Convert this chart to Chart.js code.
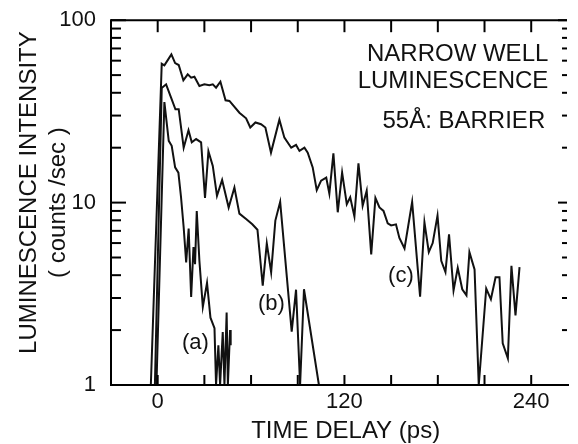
<!DOCTYPE html>
<html>
<head>
<meta charset="utf-8">
<script src="https://cdn.jsdelivr.net/npm/chart.js@4.4.1/dist/chart.umd.min.js"></script>
<style>
    html, body { margin: 0; padding: 0; background: #fff; }
</style>
</head>
<body>
<canvas id="chart" width="578" height="444"></canvas>
<script>
// time delay (ps) and counts/sec
const timeA = [-0.8, 4.3, 7.1, 9.0, 11.2, 13.3, 15.0, 16.7, 18.3, 19.9, 21.5, 23.0, 24.0, 25.1,
    26.8, 29.0, 31.7, 33.9, 36.5, 37.5, 39.0, 40.1, 41.8, 42.9, 44.3, 45.1, 46.5, 46.9];
const countsA = [1.0, 35.6, 21.8, 20.5, 15.6, 14.6, 10.7, 7.3, 4.7, 7.2, 3.04, 5.7, 4.6, 9.0,
    4.8, 2.68, 3.63, 2.34, 2.05, 1.0, 1.65, 1.0, 1.95, 1.0, 2.5, 1.0, 2.0, 1.65];

const timeB = [-1.8, 2.6, 5.4, 8.6, 11.4, 13.5, 16.7, 19.8, 21.9, 24.7, 27.9, 30.4, 32.6, 35.4,
    38.1, 41.4, 45.6, 49.3, 52.5, 57.0, 60.8, 64.1, 67.5, 70.1, 72.9, 75.6, 78.7, 86.1, 88.9,
    91.5, 94.0, 103.6];
const countsB = [1.0, 42.5, 44.5, 37.6, 32.5, 32.5, 20.0, 24.9, 21.4, 22.3, 21.4, 10.6, 19.1, 15.9,
    10.9, 13.3, 9.4, 12.1, 8.7, 8.1, 7.6, 7.1, 3.5, 5.97, 4.15, 7.97, 10.1, 1.96, 3.33,
    1.0, 3.35, 1.0];

const timeC = [-4.4, 2.6, 4.3, 8.8, 11.2, 13.5, 16.5, 19.3, 21.5, 23.6, 26.8, 30.0, 33.2, 35.4,
    37.5, 40.3, 43.6, 46.1, 52.5, 56.8, 59.5, 62.8, 66.4, 69.2, 72.8, 78.2, 81.4, 85.8, 88.9,
    91.1, 94.3, 96.4, 99.6, 102.2, 105.0, 108.3, 110.3, 112.9, 115.7, 118.5, 121.5, 123.7,
    126.4, 129.0, 131.7, 134.3, 137.2, 139.9, 142.5, 145.1, 147.8, 150.0, 153.1, 155.3, 158.6,
    163.5, 168.6, 171.4, 174.2, 176.7, 179.8, 182.2, 184.9, 187.2, 190.1, 192.8, 195.7, 198.4,
    200.3, 203.6, 206.3, 211.1, 214.1, 217.1, 219.6, 221.7, 225.0, 227.3, 229.9, 232.5];
const countsC = [1.0, 57.7, 56.6, 64.9, 58.2, 56.8, 46.8, 50.5, 48.4, 49.0, 43.6, 44.5, 44.0, 44.5,
    42.7, 46.0, 36.4, 36.1, 31.1, 29.0, 25.8, 27.5, 26.9, 25.8, 18.8, 28.5, 22.7, 20.0, 20.7,
    19.2, 20.0, 18.8, 15.6, 11.7, 13.2, 13.7, 11.2, 18.6, 8.85, 14.6, 9.8, 10.7,
    8.4, 16.4, 9.6, 11.6, 5.2, 10.6, 9.4, 9.0, 7.7, 7.5, 7.6, 6.4, 5.6,
    10.1, 3.05, 7.8, 5.35, 6.0, 8.5, 4.8, 4.16, 6.7, 3.3, 4.39, 3.35, 3.1,
    5.35, 4.3, 1.0, 3.38, 2.95, 3.9, 3.9, 1.69, 1.40, 4.5, 2.41, 4.43];

const xTicks = [0, 30, 60, 90, 120, 150, 180, 210, 240];
const xLabels = [0, 120, 240];
const yTicks = [1, 2, 3, 4, 5, 6, 7, 8, 9, 10, 20, 30, 40, 50, 60, 70, 80, 90, 100];
const yLabels = [1, 10, 100];

// curve tags: [text, time, counts]
const curveTags = [['(a)', 24.2, 1.70], ['(b)', 73.1, 2.77], ['(c)', 156.3, 3.94]];
// box text, right aligned: [text, time, counts]
const noteLines = [['NARROW WELL', 251, 65.2], ['LUMINESCENCE', 251, 46.4], ['55Å: BARRIER', 249, 27.8]];

const FONT = "'Liberation Sans', Arial, sans-serif";
const INK = '#111';

function toPoints(xs, ys) {
    return xs.map((x, i) => ({ x: x, y: ys[i] }));
}

function lineSet(xs, ys) {
    return {
        data: toPoints(xs, ys),
        borderColor: INK,
        borderWidth: 2,
        pointRadius: 0,
        tension: 0,
        fill: false
    };
}

function seg(ctx, x1, y1, x2, y2) {
    ctx.beginPath();
    ctx.moveTo(x1, y1);
    ctx.lineTo(x2, y2);
    ctx.stroke();
}

// frame, inward ticks and the texts inside the plot
const framePlugin = {
    id: 'frame',
    afterDraw(chart) {
        const ctx = chart.ctx;
        const a = chart.chartArea;
        const sx = chart.scales.x;
        const sy = chart.scales.y;
        ctx.save();
        ctx.strokeStyle = '#000';
        ctx.lineWidth = 2;
        seg(ctx, a.left, a.top, a.right, a.top);
        seg(ctx, a.left, a.top - 1, a.left, a.bottom + 1);
        seg(ctx, a.left, a.bottom, a.right + 2, a.bottom);

        for (const v of xTicks) {
            const px = sx.getPixelForValue(v);
            seg(ctx, px, a.top, px, a.top + 12);
            seg(ctx, px, a.bottom, px, a.bottom - 10);
        }
        for (const v of yTicks) {
            const py = sy.getPixelForValue(v);
            const major = yLabels.includes(v);
            seg(ctx, a.left, py, a.left + (major ? 15 : 10), py);
            seg(ctx, a.right, py, a.right - (major ? 9 : 5), py);
        }

        ctx.fillStyle = INK;
        ctx.textBaseline = 'middle';
        ctx.font = '22px ' + FONT;
        ctx.textAlign = 'center';
        for (const [txt, t, c] of curveTags) {
            ctx.fillText(txt, sx.getPixelForValue(t), sy.getPixelForValue(c));
        }
        ctx.font = '24px ' + FONT;
        ctx.textAlign = 'right';
        for (const [txt, t, c] of noteLines) {
            ctx.fillText(txt, sx.getPixelForValue(t), sy.getPixelForValue(c));
        }
        ctx.restore();
    }
};

new Chart(document.getElementById('chart'), {
    type: 'line',
    data: {
        datasets: [
            lineSet(timeA, countsA),
            lineSet(timeB, countsB),
            lineSet(timeC, countsC)
        ]
    },
    options: {
        responsive: false,
        animation: false,
        devicePixelRatio: 1,
        layout: { padding: { top: 18, right: 11, left: 0, bottom: -2 } },
        plugins: {
            legend: { display: false },
            tooltip: { enabled: false }
        },
        scales: {
            x: {
                type: 'linear',
                min: -30,
                max: 263,
                grid: { display: false },
                border: { display: false },
                afterBuildTicks: s => { s.ticks = xLabels.map(v => ({ value: v })); },
                ticks: {
                    autoSkip: false,
                    maxRotation: 0,
                    padding: -4,
                    color: INK,
                    font: { family: FONT, size: 22 },
                    callback: v => String(v)
                },
                title: {
                    display: true,
                    text: '  TIME DELAY (ps)',
                    color: INK,
                    font: { family: FONT, size: 24 },
                    padding: { top: 0, bottom: 0 }
                },
                afterFit: s => { s.height = 61; }
            },
            y: {
                type: 'logarithmic',
                min: 1,
                max: 100,
                grid: { display: false },
                border: { display: false },
                afterBuildTicks: s => { s.ticks = yLabels.map(v => ({ value: v })); },
                ticks: {
                    autoSkip: false,
                    padding: 7,
                    color: INK,
                    font: { family: FONT, size: 22 },
                    callback: v => String(v)
                },
                title: {
                    display: true,
                    text: ['   LUMINESCENCE INTENSITY', '( counts /sec )'],
                    color: INK,
                    font: { family: FONT, size: 24 },
                    padding: { top: 15, bottom: 0 }
                },
                afterFit: s => { s.width = 111; }
            }
        }
    },
    plugins: [framePlugin]
});
</script>
</body>
</html>
